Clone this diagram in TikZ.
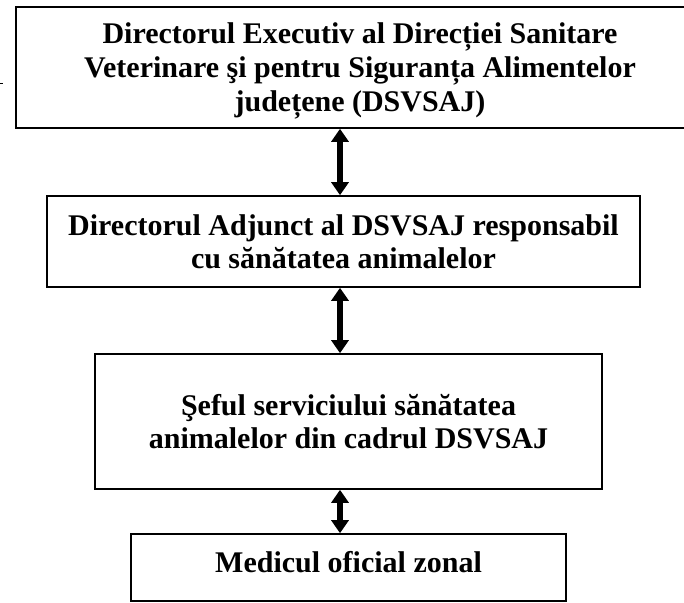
\documentclass[tikz,border=0pt]{standalone}
\usepackage{fontspec}
\setmainfont{Liberation Serif}
\usetikzlibrary{arrows.meta}

\begin{document}
\begin{tikzpicture}[x=1pt,y=-1pt,
  box/.style={draw, line width=1.6pt, align=center, inner sep=0pt,
    font=\bfseries\fontsize{30}{33}\selectfont},
  link/.style={line width=5.5pt,
    {Triangle[width=17pt,length=13pt]}-{Triangle[width=17pt,length=13pt]}}]

\useasboundingbox (0,0) rectangle (684,602);
\clip (0,0) rectangle (684,602);

\coordinate (axis) at (340,0);

\node[box, minimum width=688pt, minimum height=121pt, text depth=0pt,
  font=\bfseries\fontsize{30}{34}\selectfont] (exec) at (360,67.5)
  {Directorul Executiv al Direcției Sanitare\\
   Veterinare şi pentru Siguranța Alimentelor\\
   județene (DSVSAJ)};
\node[box, minimum width=593pt, minimum height=91pt] (adj) at (343.5,241.5)
  {Directorul Adjunct al DSVSAJ responsabil\\
   cu sănătatea animalelor};
\node[box, minimum width=507pt, minimum height=135pt, text depth=0pt] (sef) at (348.5,421.5)
  {Şeful serviciului sănătatea\\
   animalelor din cadrul DSVSAJ};
\node[box, minimum width=435pt, minimum height=67pt, text depth=11pt] (med) at (348.5,567.5)
  {Medicul oficial zonal};

\draw[link] (exec.south -| axis) -- (adj.north -| axis);
\draw[link] (adj.south -| axis) -- (sef.north -| axis);
\draw[link] (sef.south -| axis) -- (med.north -| axis);

% small mark at the left edge
\draw[line width=1pt] (0,83) -- (3,83);

\end{tikzpicture}
\end{document}
